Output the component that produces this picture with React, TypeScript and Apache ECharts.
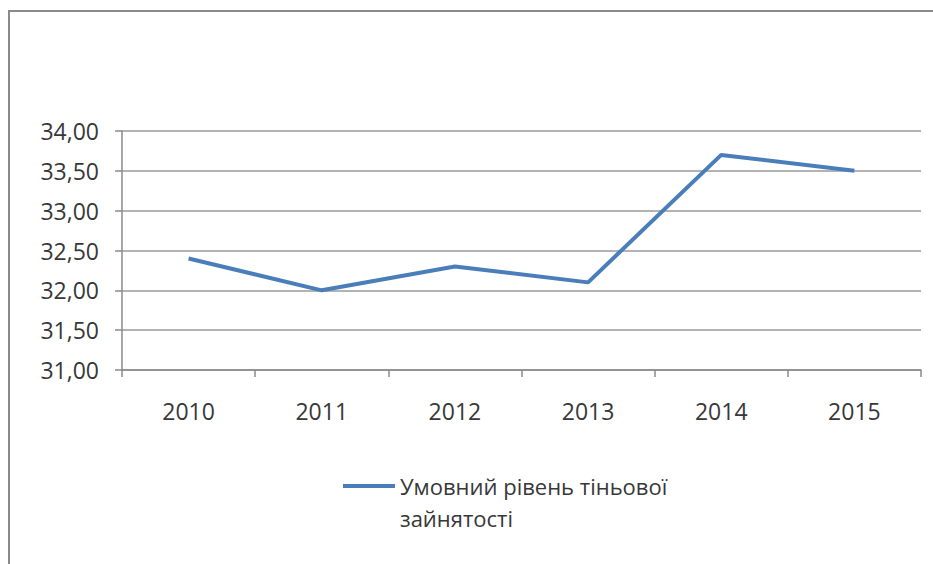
import React, { useEffect, useRef } from "react";
import * as echarts from "echarts";

const categories = ["2010", "2011", "2012", "2013", "2014", "2015"];
const values = [32.4, 32.0, 32.3, 32.1, 33.7, 33.5];
const seriesName = "Умовний рівень тіньової зайнятості";
const legendLabel = "Умовний рівень тіньової\nзайнятості";
const lineColor = "#4a7ebb";

export default function App() {
  const ref = useRef<HTMLDivElement>(null);
  useEffect(() => {
    document.body.style.margin = "0";
    const chart = echarts.init(ref.current!, undefined, { renderer: "svg" });
    const font = "'Open Sans', 'DejaVu Sans', sans-serif";
    chart.setOption({
      animation: false,
      backgroundColor: "#ffffff",
      textStyle: { fontFamily: font },
      graphic: [
        {
          type: "rect",
          shape: { x: 9, y: 11, width: 1000, height: 700 },
          style: { fill: "none", stroke: "#8a8a8a", lineWidth: 2 },
          silent: true,
        },
        {
          type: "line",
          shape: { x1: 343, y1: 486, x2: 395, y2: 486 },
          style: { stroke: lineColor, lineWidth: 4 },
          silent: true,
        },
        {
          type: "text",
          x: 400,
          y: 470,
          style: {
            text: legendLabel,
            font: `22px ${font}`,
            fill: "#383838",
            lineHeight: 32,
            verticalAlign: "top",
            align: "left",
          },
          silent: true,
        },
      ],
      grid: { left: 122, right: 12, top: 131, bottom: 194 },
      xAxis: {
        type: "category",
        data: categories,
        boundaryGap: true,
        axisLine: { show: true, lineStyle: { color: "#8a8a8a", width: 1.5 } },
        axisTick: { show: true, length: 7, lineStyle: { color: "#8a8a8a", width: 1.5 } },
        axisLabel: { fontFamily: font, fontSize: 23, color: "#383838", margin: 29 },
      },
      yAxis: {
        type: "value",
        min: 31,
        max: 34,
        interval: 0.5,
        axisLine: { show: true, lineStyle: { color: "#8a8a8a", width: 1.5 } },
        axisTick: { show: true, length: 7, lineStyle: { color: "#8a8a8a", width: 1.5 } },
        splitLine: { show: true, lineStyle: { color: "#9a9a9a", width: 1.5 } },
        axisLabel: {
          fontFamily: font,
          fontSize: 23,
          color: "#383838",
          margin: 23,
          formatter: (v: number) => v.toFixed(2).replace(".", ","),
        },
      },
      series: [
        {
          name: seriesName,
          type: "line",
          data: values,
          symbol: "none",
          lineStyle: { color: lineColor, width: 4 },
          itemStyle: { color: lineColor },
        },
      ],
    });
    return () => chart.dispose();
  }, []);
  return <div ref={ref} style={{ width: 933, height: 564 }} />;
}
